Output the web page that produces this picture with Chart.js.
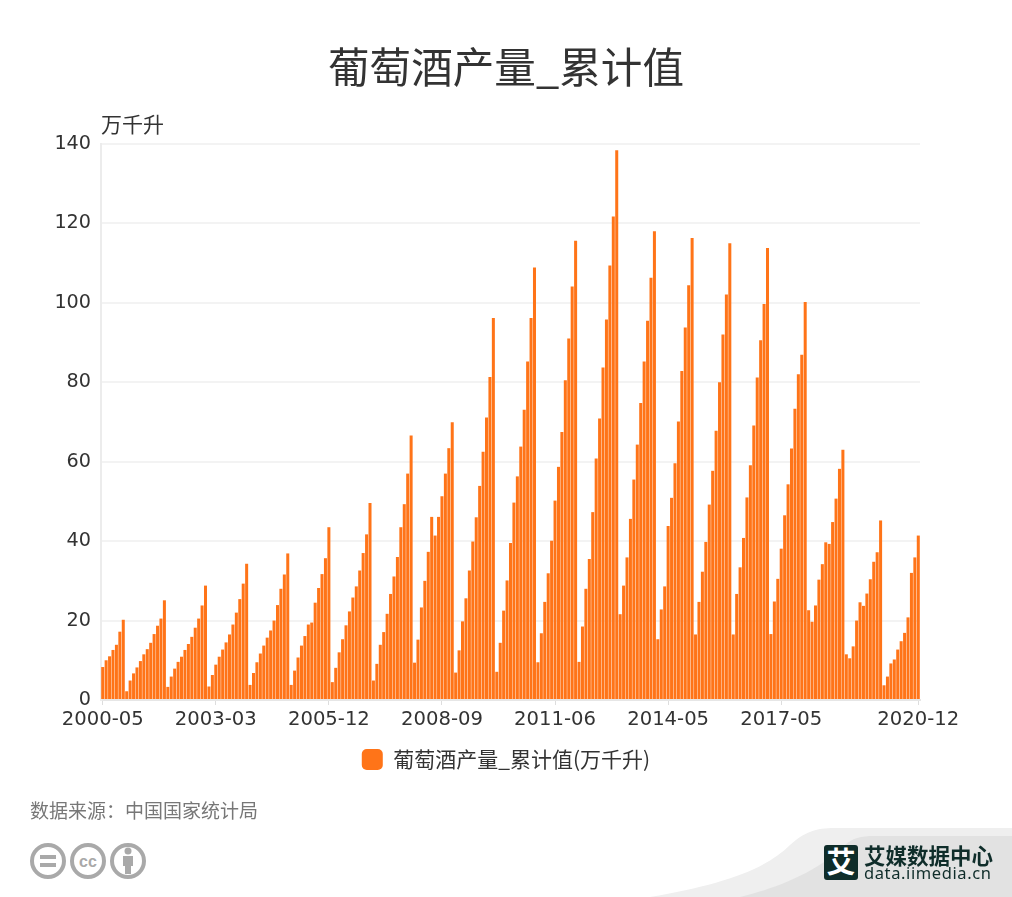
<!DOCTYPE html>
<html>
<head>
    <meta charset="utf-8">
    <script src="https://cdn.jsdelivr.net/npm/chart.js"></script>
    <style>
        body { margin: 0; background: #fff; width: 1012px; height: 897px; overflow: hidden; position: relative; font-family: "Noto Sans CJK SC", sans-serif; }
        canvas, svg, .txt { position: absolute; }
        canvas { left: 0; top: 0; }
        svg { left: 0; top: 0; }
        .txt { white-space: nowrap; line-height: 1; }
    </style>
</head>

<body>
    <svg width="1012" height="897">
        <path d="M650 897 C720 885 765 870 790 845 C805 832 815 828 835 828 L1012 828 L1012 897 Z" fill="#efefef"></path>
        <path d="M740 897 C790 885 825 865 845 845 C853 838 860 836 875 836 L1012 836 L1012 897 Z" fill="#e2e2e2"></path>
        <g fill="none" stroke="#a9a9a9" stroke-width="4">
            <circle cx="48" cy="861" r="16"></circle>
            <circle cx="88" cy="861" r="16"></circle>
            <circle cx="128" cy="861" r="16"></circle>
        </g>
        <g fill="#a9a9a9">
            <rect x="40" y="855" width="16" height="4"></rect>
            <rect x="40" y="863" width="16" height="4"></rect>
            <circle cx="128" cy="851" r="3.5"></circle>
            <rect x="123" y="856" width="10" height="10"></rect>
            <rect x="125" y="864" width="6" height="10"></rect>
        </g>
        <text x="88" y="867" text-anchor="middle" font-family="Liberation Sans" font-weight="bold" font-size="16" fill="#a9a9a9">cc</text>
        <rect x="824" y="845" width="34" height="35" rx="3" fill="#0f2d2a"></rect>
        <text x="841" y="873" text-anchor="middle" font-family="Noto Sans CJK SC" font-weight="bold" font-size="29" fill="#fff">艾</text>
    </svg>

    <canvas id="wineChart" width="1012" height="897"></canvas>

    <div class="txt" style="left:101px;top:113px;font-size:21px;color:#333">万千升</div>
    <div class="txt" style="left:30px;top:800px;font-size:19px;color:#777">数据来源：中国国家统计局</div>
    <div class="txt" style="left:864px;top:844px;font-size:21.5px;font-weight:bold;color:#0f2d2a">艾媒数据中心</div>
    <div class="txt" style="left:864px;top:865px;font-size:16.5px;letter-spacing:0.6px;color:#0f2d2a;font-family:'Noto Sans'">data.iimedia.cn</div>

<script>
    var months = [
        '2000-05','2000-06','2000-07','2000-08','2000-09','2000-10','2000-12',
        '2001-01','2001-02','2001-03','2001-04','2001-05','2001-06','2001-07','2001-08','2001-09','2001-10','2001-11','2001-12',
        '2002-01','2002-02','2002-03','2002-04','2002-05','2002-06','2002-07','2002-08','2002-09','2002-10','2002-11','2002-12',
        '2003-01','2003-02','2003-03','2003-04','2003-05','2003-06','2003-07','2003-08','2003-09','2003-10','2003-11','2003-12',
        '2004-01','2004-02','2004-03','2004-04','2004-05','2004-06','2004-07','2004-08','2004-09','2004-10','2004-11','2004-12',
        '2005-01','2005-02','2005-03','2005-04','2005-05','2005-06','2005-07','2005-08','2005-09','2005-10','2005-11','2005-12',
        '2006-01','2006-02','2006-03','2006-04','2006-05','2006-06','2006-07','2006-08','2006-09','2006-10','2006-11','2006-12',
        '2007-01','2007-02','2007-03','2007-04','2007-05','2007-06','2007-07','2007-08','2007-09','2007-10','2007-11','2007-12',
        '2008-01','2008-02','2008-03','2008-04','2008-05','2008-06','2008-07','2008-08','2008-09','2008-10','2008-11','2008-12',
        '2009-01','2009-02','2009-03','2009-04','2009-05','2009-06','2009-07','2009-08','2009-09','2009-10','2009-11','2009-12',
        '2010-01','2010-02','2010-03','2010-04','2010-05','2010-06','2010-07','2010-08','2010-09','2010-10','2010-11','2010-12',
        '2011-01','2011-02','2011-03','2011-04','2011-05','2011-06','2011-07','2011-08','2011-09','2011-10','2011-11','2011-12',
        '2012-01','2012-02','2012-03','2012-04','2012-05','2012-06','2012-07','2012-08','2012-09','2012-10','2012-11','2012-12',
        '2013-02','2013-03','2013-04','2013-05','2013-06','2013-07','2013-08','2013-09','2013-10','2013-11','2013-12',
        '2014-02','2014-03','2014-04','2014-05','2014-06','2014-07','2014-08','2014-09','2014-10','2014-11','2014-12',
        '2015-02','2015-03','2015-04','2015-05','2015-06','2015-07','2015-08','2015-09','2015-10','2015-11','2015-12',
        '2016-02','2016-03','2016-04','2016-05','2016-06','2016-07','2016-08','2016-09','2016-10','2016-11','2016-12',
        '2017-02','2017-03','2017-04','2017-05','2017-06','2017-07','2017-08','2017-09','2017-10','2017-11','2017-12',
        '2018-02','2018-03','2018-04','2018-05','2018-06','2018-07','2018-08','2018-09','2018-10','2018-11','2018-12',
        '2019-02','2019-03','2019-04','2019-05','2019-06','2019-07','2019-08','2019-09','2019-10','2019-11','2019-12',
        '2020-02','2020-03','2020-04','2020-05','2020-06','2020-07','2020-08','2020-09','2020-10','2020-11','2020-12'
    ]

    var output = [
        8.3,10,11,12.6,13.9,17.2,20.2,
        2.2,4.9,6.7,8.2,9.8,11.5,12.8,14.4,16.6,18.7,20.5,25.1,
        3.3,5.9,7.9,9.6,10.9,12.6,14.1,15.9,18.2,20.5,23.8,28.8,
        3.4,6.3,8.9,10.9,12.7,14.5,16.5,19,22,25.4,29.3,34.3,
        3.8,6.8,9.5,11.7,13.7,15.7,17.5,20,23.9,28,31.6,36.9,
        3.8,7.4,10.7,13.7,16.1,19,19.5,24.5,28.2,31.7,35.7,43.5,
        4.5,8.1,12,15.3,18.8,22.3,25.8,28.6,32.6,37,41.7,49.6,
        4.9,9.1,13.9,17.1,21.7,26.7,31.1,36,43.5,49.3,57,66.6,
        9.4,15.2,23.3,30,37.3,46.1,41.4,46.1,51.3,57,63.4,69.9,
        6.9,12.5,19.8,25.6,32.6,39.9,46,53.9,62.5,71.1,81.3,96.2,
        7.1,14.4,22.5,30.1,39.5,49.7,56.3,63.8,73.1,85.2,96.2,108.9,
        9.5,16.8,24.7,31.9,40.1,50.2,58.7,67.5,80.5,91,104.1,115.6,
        9.6,18.5,28,35.5,47.3,60.8,70.9,83.7,95.8,109.4,121.7,138.4,
        21.6,28.8,35.9,45.6,55.5,64.3,74.8,85.2,95.5,106.3,118,
        15.3,22.8,28.6,43.8,50.9,59.6,70.1,82.8,93.8,104.4,116.3,
        16.5,24.7,32.3,39.8,49.2,57.7,67.8,80,92,102.1,115,
        16.5,26.7,33.4,40.8,51,59.1,69.1,81.2,90.6,99.7,113.8,
        16.6,24.8,30.5,38.1,46.5,54.3,63.3,73.3,82,86.9,100.2,
        22.6,19.7,23.8,30.3,34.2,39.7,39.3,44.8,50.7,58.2,63,
        11.5,10.5,13.5,20,24.6,23.7,26.8,30.4,34.8,37.2,45.2,
        3.7,5.9,9.2,10.2,12.7,14.8,16.9,20.8,32,35.9,41.4
    ]

    var tickLabels = ['2000-05','2003-03','2005-12','2008-09','2011-06','2014-05','2017-05','2020-12']

    var fontName = "'Noto Sans CJK SC', sans-serif"
    var tickFont = "'DejaVu Sans', sans-serif"

    var ctx = document.getElementById('wineChart').getContext('2d')

    var wineChart = new Chart(ctx, {
        type: 'bar',
        data: {
            labels: months,
            datasets: [{
                label: '葡萄酒产量_累计值(万千升)',
                data: output,
                backgroundColor: '#ff7418',
                borderRadius: 0,
                barPercentage: 0.88,
                categoryPercentage: 1
            }]
        },
        options: {
            responsive: false,
            animation: false,
            layout: {
                padding: { left: 0, right: 0, top: 0, bottom: 117 }
            },
            plugins: {
                tooltip: { enabled: false },
                title: {
                    display: true,
                    text: '葡萄酒产量_累计值',
                    color: '#333',
                    font: { family: fontName, size: 41.6, weight: 'normal' },
                    padding: { top: 42, bottom: 52 }
                },
                legend: {
                    position: 'bottom',
                    labels: {
                        color: '#333',
                        font: { family: fontName, size: 21 },
                        boxWidth: 21,
                        boxHeight: 21,
                        useBorderRadius: true,
                        borderRadius: 5,
                        padding: 0
                    }
                }
            },
            scales: {
                x: {
                    afterBuildTicks: function(axis) {
                        axis.ticks = axis.ticks.filter(function(t) {
                            return tickLabels.indexOf(months[t.value]) >= 0
                        })
                    },
                    afterFit: function(axis) { axis.height = 49 },
                    ticks: {
                        autoSkip: false,
                        maxRotation: 0,
                        color: '#333',
                        font: { family: tickFont, size: 19.6 },
                        padding: 3
                    },
                    grid: { offset: false, drawOnChartArea: false, color: '#ddd', tickLength: 5 },
                    border: { color: '#e6e6e6', width: 2 }
                },
                y: {
                    min: 0,
                    max: 140,
                    afterFit: function(axis) { axis.width = 101 },
                    ticks: {
                        stepSize: 20,
                        color: '#333',
                        font: { family: tickFont, size: 19.2 },
                        padding: 10
                    },
                    grid: { color: '#f3f3f3', lineWidth: 2, drawTicks: false },
                    border: { color: '#ececec', width: 2 }
                },
                // empty axis, only keeps the plot off the right edge so title and legend stay centred
                rightGap: {
                    position: 'right',
                    afterFit: function(axis) { axis.width = 92 },
                    ticks: { display: false },
                    grid: { display: false },
                    border: { display: false }
                }
            }
        }
    })
</script>
</body>
</html>
